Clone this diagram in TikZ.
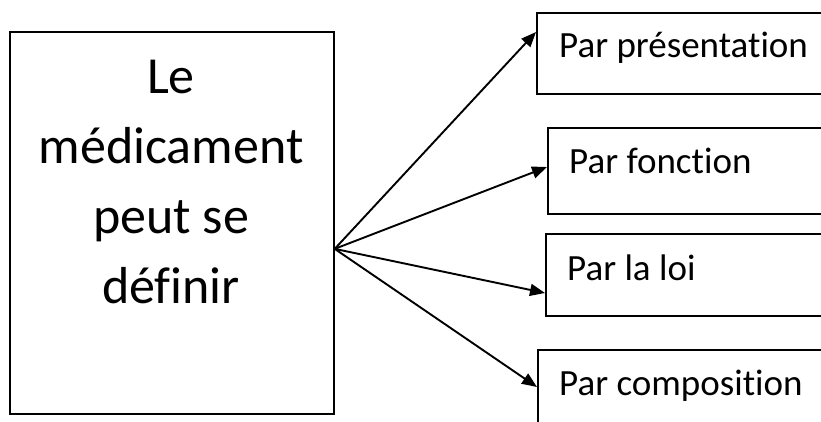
\documentclass[tikz,border=0pt]{standalone}
\usepackage{fontspec}
\setmainfont{Carlito}[Ligatures=NoCommon]
\usetikzlibrary{arrows.meta}
\begin{document}
\begin{tikzpicture}[x=1pt,y=-1pt,
  box/.style={draw, line width=1.7pt, anchor=north west, inner sep=0pt, minimum width=330pt},
  lbl/.style={anchor=base west, inner sep=0pt, font=\fontsize{37}{44}\selectfont},
  arr/.style={-{Triangle[length=15pt,width=12pt]}, line width=1.9pt}]
\useasboundingbox (0,0) rectangle (821,421);
\clip (0,0) rectangle (821,421);
\node[draw, line width=1.7pt, anchor=north west, inner sep=0pt, minimum width=324pt, minimum height=382pt] (L) at (9,31) {};
\node[anchor=base, inner sep=0pt, align=center, font=\fontsize{52}{70}\selectfont] (Lt) at (171,303) {Le\\médicament\\peut se\\définir};
\node[box, minimum height=81pt] (b1) at (536,12) {};
\node[box, minimum height=86pt] (b2) at (547,127) {};
\node[box, minimum height=82pt] (b3) at (545,233) {};
\node[box, minimum height=100pt] (b4) at (537,349) {};
\node[lbl] (t1) at (559,57) {Par présentation};
\node[lbl] (t2) at (569,173) {Par fonction};
\node[lbl] (t3) at (567,280) {Par la loi};
\node[lbl] (t4) at (559,395) {Par composition};
\coordinate (o) at ([yshift=-26pt]L.east);
\draw[arr] (o) -- ([yshift=-20pt]b1.north west);
\draw[arr] (o) -- ([yshift=-40pt]b2.north west);
\draw[arr] (o) -- ([yshift=-60pt]b3.north west);
\draw[arr] (o) -- ([yshift=-38pt]b4.north west);
\end{tikzpicture}
\end{document}
